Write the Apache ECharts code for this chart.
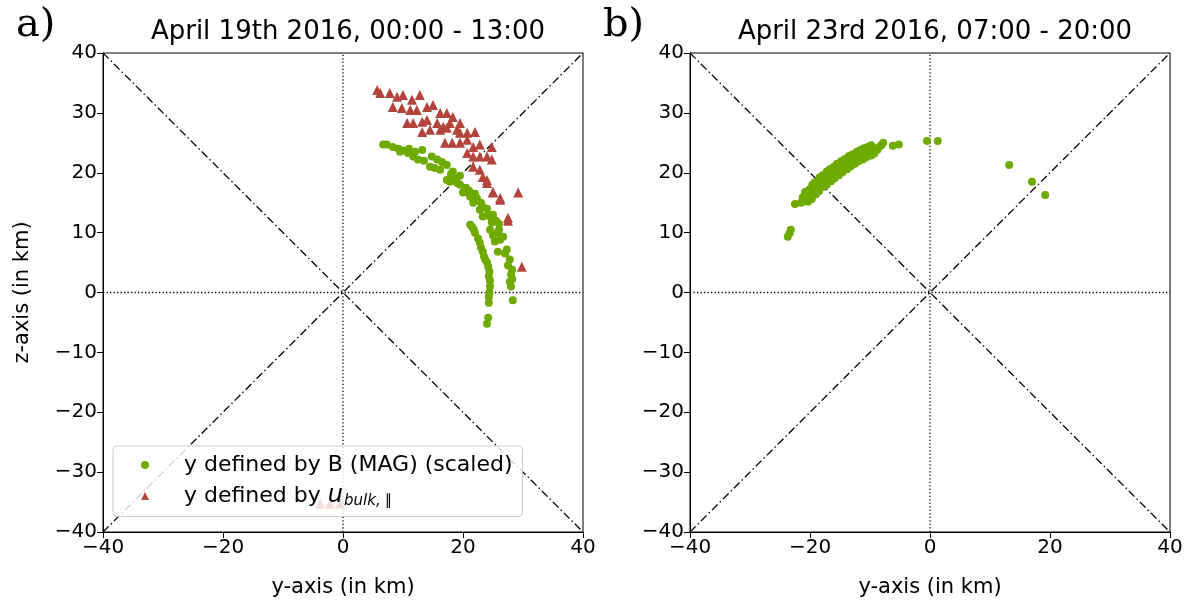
<!DOCTYPE html>
<html>
<head>
<meta charset="utf-8">
<script src="https://cdn.jsdelivr.net/npm/echarts@6/dist/echarts.min.js"></script>
<style>
  html, body { margin: 0; padding: 0; background: #fff; }
  #main { width: 1192px; height: 608px; }
</style>
</head>
<body>
<div id="main"></div>
<script>
// panel a) april 19th, y defined by B (MAG) (scaled)
var magA = [
  [6.7,24.7],[7.3,24.7],[8.3,24.3],[9.2,24],[10,23.7],[10.8,23.3],[11.7,22.7],[12.5,22.2],[13.2,23.8],
  [12,23.5],[11,24],[9.5,23.5],[13.5,22],[14.8,22.7],[15.7,22.2],[16.5,21.8],[14.5,21],[15.3,20.8],
  [16.2,20.5],[17.3,21.3],[18.3,20.2],[18,19.8],[18.8,19],[17.3,18.8],[17.8,18.5],[19,18.3],[19.5,19.5],
  [19.5,18],[20.5,17.5],[21,17],[20,16.7],[20.7,16.7],[22,16.5],[21.2,16],[22.3,15.8],[21.7,15],
  [22.3,15.5],[23,15],[22.8,13.8],[23.3,14.3],[24,14],[23.3,12.7],[24.2,13],[24.5,12.7],[25,13],
  [25.5,12],[26,11.5],[24.8,11.7],[24.5,10.5],[25.7,10],[26,10.5],[25,9.5],[25.3,8.5],[25.8,6.8],
  [21.2,11.3],[21.5,11],[21.8,10.5],[22,10],[22.5,9],[22.8,8.3],[23,7.5],[23.3,6.8],[23.5,6],
  [23.7,5.5],[24,5],[24.2,4.3],[24.4,3.5],[24.3,2.7],[24.5,2],[24.5,1],[24.4,0],[24.3,-0.7],
  [24.3,-1.7],[24.2,-4.2],[24,-5.2],[26.2,8.8],[26.7,9.3],[27.3,7.2],[27,6.5],[27.8,5.5],
  [27.5,4.5],[28.2,3.8],[28,3],[28.2,2.2],[27.8,1.8],[28,1],[28.3,-1.3]
];
// panel a) y defined by u_bulk,||
var ubulkA = [
  [5.7,33.8],[6.2,33.3],[7.8,33.3],[9,32.7],[10,33],[11.5,32.2],[12.8,33],[8.3,31],[9.8,30.8],
  [11.2,30.5],[12.3,30.5],[14,31],[15,31.3],[16.2,30],[17.3,30],[18.3,29.3],[10.7,28.3],[11.7,28.3],
  [13.2,28.5],[14,28.8],[15.7,28.3],[16.7,27.7],[17.8,28.3],[19.5,28.3],[13.2,26.8],[14.5,27.2],
  [16.2,27.2],[17.3,27.5],[19,27.2],[19.5,26.7],[20.7,26.7],[22,26.8],[17,25],[18.2,25],[19.5,25],
  [20.7,25.5],[21.7,24.3],[22.8,24.7],[24.8,24.3],[20.7,23.3],[21.7,22.7],[22.8,22.7],[24,22.7],
  [24.8,22.2],[21.7,21],[22.8,20.5],[23.3,19.3],[24,18.8],[24,18.3],[25,16.8],[25,16.7],[26.2,15.8],
  [26.2,15.5],[29.2,16.7],[27.5,12.5],[27.5,12],[29.8,4.3],
  [-3.8,-35.3],[-2.2,-35.3],[-0.5,-35.3]
];
// panel b) april 23rd, y defined by B (MAG) (scaled)
var magB = [
  [-23.7,9.3],[-23.4,9.9],[-23.2,10.5],[-22.5,14.8],[-21.5,15],[-21,15.2],[-20.5,15.8],[-20,16.3],
  [-19.8,16.8],[-19.5,17.2],[-19,17.6],[-18.8,17],[-18.5,18.1],[-18.2,17.8],[-18,18.5],[-17.6,18.9],
  [-17.4,18.3],[-17,19.3],[-16.8,18.8],[-16.5,19.7],[-16.2,19.3],[-16,20.1],[-15.6,19.8],[-15.4,20.5],
  [-15,20.9],[-14.8,20.3],[-14.5,21.2],[-14.2,20.8],[-14,21.6],[-13.6,21.3],[-13.3,22],[-13,21.7],
  [-12.7,22.3],[-12.4,21.9],[-12,22.7],[-11.6,22.4],[-11.3,23],[-11,22.7],[-10.6,23.3],[-10.2,23],
  [-10,23.7],[-9.6,23.4],[-9.2,24],[-8.8,23.8],[-8.5,24.3],[-8.1,24.6],[-7.8,25],[-6.2,24.5],
  [-5.2,24.7],[-0.5,25.3],[1.3,25.3],[13.2,21.3],[17,18.5],[19.2,16.3],
  [-20.8,16.8],[-19.6,18],[-18.4,19.2],[-17.2,20.2],[-16,21],[-14.8,21.9],[-13.5,22.8],[-12.2,23.5],
  [-11,24.1],[-9.8,24.6],[-20.3,15.2],[-19,16.4],[-17.8,17.6],[-16.5,18.6],[-15.2,19.6],[-13.8,20.6],
  [-12.5,21.5],[-11.2,22.2],[-9.8,22.9],
  [-21.2,15.9],[-20.1,17.2],[-19.2,18.4],[-17.9,19.6],[-16.7,20.6],[-15.5,21.5],[-14.2,22.3],
  [-12.9,23.1],[-11.6,23.8],[-10.4,24.3],[-19.7,15.6],[-18.5,16.9],[-17.2,18],[-15.9,19.1],
  [-14.6,20.1],[-13.2,21.1],[-11.9,21.9],[-10.6,22.6],[-9.3,23.2]
];
var titles = ['April 19th 2016, 00:00 - 13:00', 'April 23rd 2016, 07:00 - 20:00'];
var panelTags = ['a)', 'b)'];
var diagUp = [[-40,-40],[40,40]];
var diagDown = [[-40,40],[40,-40]];
var zeroH = [[-40,0],[40,0]];
var zeroV = [[0,-40],[0,40]];

var green = '#6eaa00', red = '#b3443b';
var grids = [
  { left: 103, top: 53, width: 480, height: 479 },
  { left: 690, top: 53, width: 480, height: 479 }
];

function minus(v) { return String(v).replace('-', '\u2212'); }

function xAx(i) {
  return {
    gridIndex: i, type: 'value', min: -40, max: 40, interval: 20,
    axisLine: { show: true, onZero: false, lineStyle: { color: '#000', width: 1 } },
    axisTick: { show: true, length: 6, lineStyle: { color: '#000' } },
    axisLabel: { color: '#000', fontSize: 20, margin: 6, fontFamily: 'DejaVu Sans', formatter: minus },
    splitLine: { show: false },
    name: 'y-axis (in km)', nameLocation: 'middle', nameGap: 45,
    nameTextStyle: { color: '#000', fontSize: 21, fontFamily: 'DejaVu Sans' }
  };
}
function yAx(i) {
  var a = {
    gridIndex: i, type: 'value', min: -40, max: 40, interval: 10,
    axisLine: { show: true, onZero: false, lineStyle: { color: '#000', width: 1 } },
    axisTick: { show: true, length: 6, lineStyle: { color: '#000' } },
    axisLabel: { color: '#000', fontSize: 20, margin: 6, fontFamily: 'DejaVu Sans', formatter: minus },
    splitLine: { show: false }
  };
  if (i === 0) {
    a.name = 'z-axis (in km)'; a.nameLocation = 'middle'; a.nameGap = 70; a.nameRotate = 90;
    a.nameTextStyle = { color: '#000', fontSize: 21, fontFamily: 'DejaVu Sans' };
  }
  return a;
}
function refLine(data, i, dash) {
  return {
    type: 'line', xAxisIndex: i, yAxisIndex: i, data: data, showSymbol: false, silent: true,
    animation: false, z: 1,
    lineStyle: { color: '#000', width: 1.3, type: dash }
  };
}

var series = [];
[0, 1].forEach(function (i) {
  series.push(refLine(diagUp, i, [8, 3, 1.5, 3]));
  series.push(refLine(diagDown, i, [8, 3, 1.5, 3]));
  series.push(refLine(zeroH, i, [1.3, 2.2]));
  series.push(refLine(zeroV, i, [1.3, 2.2]));
});
series.push({
  name: 'mag', type: 'scatter', xAxisIndex: 0, yAxisIndex: 0, data: magA,
  symbol: 'circle', symbolSize: 8, itemStyle: { color: green, opacity: 1 }, z: 3
});
series.push({
  name: 'ubulk', type: 'scatter', xAxisIndex: 0, yAxisIndex: 0, data: ubulkA,
  symbol: 'triangle', symbolSize: 10, itemStyle: { color: red, opacity: 1 }, z: 2
});
series.push({
  name: 'magB', type: 'scatter', xAxisIndex: 1, yAxisIndex: 1, data: magB,
  symbol: 'circle', symbolSize: 8, itemStyle: { color: green, opacity: 1 }, z: 3
});

var chart = echarts.init(document.getElementById('main'), null, { renderer: 'canvas' });
chart.setOption({
  animation: false,
  backgroundColor: '#fff',
  textStyle: { fontFamily: 'DejaVu Sans' },
  title: [0, 1].map(function (i) {
    return {
      text: titles[i], left: grids[i].left + 240, top: 14, textAlign: 'center',
      textStyle: { color: '#000', fontSize: 26, fontWeight: 'normal', fontFamily: 'DejaVu Sans' }
    };
  }),
  graphic: [0, 1].map(function (i) {
    return {
      type: 'text', left: i === 0 ? 16 : 603, top: 6,
      style: { text: panelTags[i], fontSize: 40, fontFamily: 'DejaVu Serif', fill: '#000' }
    };
  }),
  grid: grids.map(function (g) {
    return Object.assign({ show: true, borderColor: '#000', borderWidth: 1, backgroundColor: 'transparent' }, g);
  }),
  xAxis: [xAx(0), xAx(1)],
  yAxis: [yAx(0), yAx(1)],
  legend: {
    data: [{ name: 'mag', icon: 'circle' }, { name: 'ubulk', icon: 'triangle' }],
    orient: 'vertical', left: 113, top: 446,
    itemWidth: 8, itemHeight: 8, itemGap: 8,
    padding: [8, 10, 8, 28],
    backgroundColor: 'rgba(255,255,255,0.82)',
    borderColor: '#cccccc', borderWidth: 1, borderRadius: 4,
    selectedMode: false,
    formatter: function (n) {
      return n === 'mag' ? '{n|y defined by B (MAG) (scaled)}' : '{n|y defined by }{u|u}{s|bulk,}{p|\u2225}';
    },
    textStyle: {
      color: '#000', fontSize: 22,
      rich: {
        n: { fontSize: 22, color: '#000', fontFamily: 'DejaVu Sans', padding: [0, 0, 0, 30], lineHeight: 26 },
        u: { fontSize: 24, color: '#000', fontStyle: 'italic', fontFamily: 'DejaVu Sans' },
        s: { fontSize: 15, color: '#000', fontStyle: 'italic', fontFamily: 'DejaVu Sans', padding: [10, 0, 0, 1] },
        p: { fontSize: 15, color: '#000', fontFamily: 'DejaVu Sans', padding: [10, 0, 0, 4] }
      }
    }
  },
  series: series
});
</script>
</body>
</html>
